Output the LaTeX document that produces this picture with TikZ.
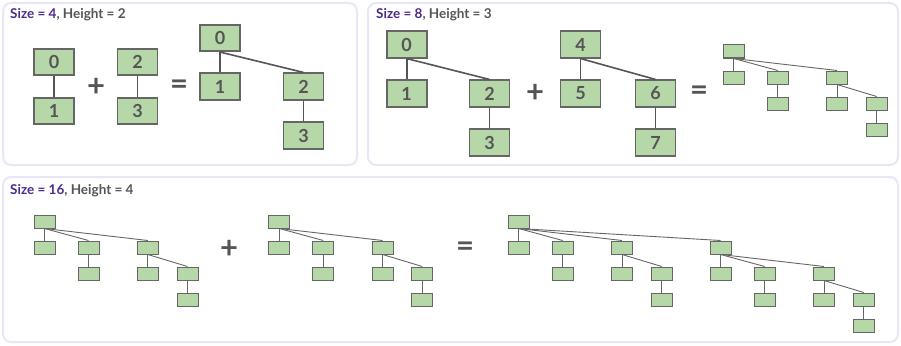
\documentclass[tikz,border=0pt]{standalone}
\usepackage{fontspec}
\setmainfont{Lato}
\definecolor{panelbd}{HTML}{E9E7F7}
\definecolor{boxfill}{HTML}{B6D7A8}
\definecolor{boxbd}{HTML}{666666}
\definecolor{txtgray}{HTML}{555555}
\definecolor{purp}{HTML}{4B2C8A}
\tikzset{
  panel/.style={draw=panelbd, line width=2pt, rounded corners=8pt, fill=white},
  title/.style={anchor=base west, font=\bfseries\fontsize{13.5}{15}\selectfont, text=txtgray, inner sep=0},
  bbox/.style={draw=boxbd, fill=boxfill, line width=1.6pt, minimum width=40pt, minimum height=26.5pt, inner sep=0,
     font=\bfseries\fontsize{18}{19}\selectfont, text=txtgray},
  bedge/.style={draw=txtgray, line width=1.6pt},
  sbox/.style={draw=boxbd, fill=boxfill, line width=1pt, minimum width=21pt, minimum height=13pt, inner sep=0},
  sedge/.style={draw=boxbd, line width=0.9pt},
  opsym/.style={font=\bfseries\fontsize{31}{31}\selectfont, text=txtgray, inner sep=0},
}
\newcommand\smalltreeE[3]{% prefix, x, y : size 8
  \foreach \i/\dx/\lv in {0/0/0,1/0/1,2/44/1,3/44/2,4/103.3/1,5/103.3/2,6/143/2,7/143/3}
    {\node[sbox] (#1\i) at (#2+\dx, #3+\lv*26) {};}
  \foreach \i/\p in {1/0,2/0,3/2,4/0,5/4,6/4,7/6}
    {\draw[sedge] (#1\p.south) -- (#1\i.north);}
}
\newcommand\smalltreeS[3]{% prefix, x, y : size 16
  \foreach \i/\dx/\lv in {0/0/0,1/0/1,2/44/1,3/44/2,4/103.3/1,5/103.3/2,6/143/2,7/143/3,
      8/202/1,9/202/2,10/246/2,11/246/3,12/305.3/2,13/305.3/3,14/345/3,15/345/4}
    {\node[sbox] (#1\i) at (#2+\dx, #3+\lv*26) {};}
  \foreach \i/\p in {1/0,2/0,3/2,4/0,5/4,6/4,7/6,8/0,9/8,10/8,11/10,12/8,13/12,14/12,15/14}
    {\draw[sedge] (#1\p.south) -- (#1\i.north);}
}
\begin{document}
\begin{tikzpicture}[x=1pt,y=-1pt]
\useasboundingbox (0,0) rectangle (901,345);
% panels
\draw[panel] (3,3) rectangle (357,165);
\draw[panel] (368,3) rectangle (898,165);
\draw[panel] (3,177) rectangle (898,342);
% titles
\node[title] (t1) at (10,19) {\textcolor{purp}{Size = 4}, Height = 2};
\node[title] (t2) at (376,19) {\textcolor{purp}{Size = 8}, Height = 3};
\node[title] (t3) at (10,194) {\textcolor{purp}{Size = 16}, Height = 4};
% panel 1
\node[bbox] (a0) at (54,62) {0};
\node[bbox] (a1) at (54,111) {1};
\draw[bedge] (a0) -- (a1);
\node[opsym] (p1) at (96,87) {+};
\node[bbox] (b0) at (137.5,62) {2};
\node[bbox] (b1) at (137.5,111) {3};
\draw[bedge] (b0) -- (b1);
\node[opsym] (e1) at (179,87) {=};
\node[bbox] (c0) at (220,38) {0};
\node[bbox] (c1) at (220,86.5) {1};
\node[bbox] (c2) at (303.5,86.5) {2};
\node[bbox] (c3) at (303.5,135.5) {3};
\draw[bedge] (c0.south) -- (c1.north);
\draw[bedge] (c0.south) -- (c2.north);
\draw[bedge] (c2.south) -- (c3.north);
% panel 2
\node[bbox] (d0) at (406.7,44.5) {0};
\node[bbox] (d1) at (406.7,93.5) {1};
\node[bbox] (d2) at (489.5,93.5) {2};
\node[bbox] (d3) at (489.5,142.5) {3};
\draw[bedge] (d0.south) -- (d1.north);
\draw[bedge] (d0.south) -- (d2.north);
\draw[bedge] (d2.south) -- (d3.north);
\node[opsym] (p2) at (535,93) {+};
\node[bbox] (f0) at (580.5,44.5) {4};
\node[bbox] (f1) at (580.5,93.5) {5};
\node[bbox] (f2) at (655.5,93.5) {6};
\node[bbox] (f3) at (655.5,142.5) {7};
\draw[bedge] (f0.south) -- (f1.north);
\draw[bedge] (f0.south) -- (f2.north);
\draw[bedge] (f2.south) -- (f3.north);
\node[opsym] (e2) at (699,93) {=};
\smalltreeE{g}{733.7}{51.5}
% panel 3
\smalltreeE{h}{44.5}{221.5}
\node[opsym] (p3) at (229,249) {+};
\smalltreeE{k}{279.3}{221.5}
\node[opsym] (e3) at (465,249) {=};
\smalltreeS{m}{518.7}{221.5}
\end{tikzpicture}
\end{document}
